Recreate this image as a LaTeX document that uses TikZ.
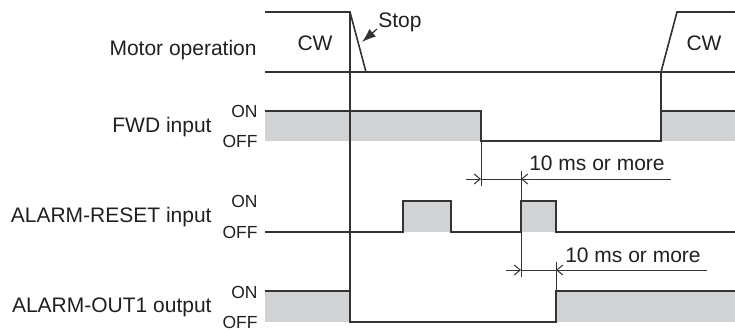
\documentclass[tikz,border=0pt]{standalone}
\usepackage{fontspec}
\setmainfont{Liberation Sans}
\usetikzlibrary{arrows.meta}
\definecolor{ln}{HTML}{333333}
\definecolor{gfill}{HTML}{D1D2D4}
\definecolor{txt}{HTML}{231F20}
\begin{document}
\begin{tikzpicture}[x=0.5pt,y=-0.5pt,
  sig/.style={draw=ln, line width=0.8pt, line join=miter},
  shade/.style={fill=gfill, draw=none},
  lbl/.style={font=\fontsize{10.5}{12}\selectfont, text=txt, inner sep=0pt},
  lvl/.style={font=\fontsize{8.75}{10}\selectfont, text=txt, inner sep=0pt, anchor=east},
  dimln/.style={draw=ln, line width=0.5pt},
  dimarr/.style={draw=ln, line width=0.5pt, -{Straight Barb[length=3pt,width=5pt]}}
]
\useasboundingbox (0,0) rectangle (735,329);

% gray fills
\fill[gfill] (265,111) rectangle (481,141);
\fill[gfill] (661,111) rectangle (735,141);
\fill[gfill] (403,201) rectangle (451,232);
\fill[gfill] (521,201) rectangle (556,232);
\fill[gfill] (265,291) rectangle (350,322);
\fill[gfill] (556,291) rectangle (735,322);

% row labels
\node[lbl, anchor=east] (motor) at (257,50) {Motor operation};
\node[lbl, anchor=east] (fwd) at (212,127) {FWD input};
\node[lbl, anchor=east] (reset) at (212,217) {ALARM-RESET input};
\node[lbl, anchor=east] (out) at (212,307) {ALARM-OUT1 output};

\node[lvl] (fwdon) at (258,111) {ON};
\node[lvl] (fwdoff) at (258,141) {OFF};
\node[lvl] (reson) at (258,201) {ON};
\node[lvl] (resoff) at (258,232) {OFF};
\node[lvl] (outon) at (258,292) {ON};
\node[lvl] (outoff) at (258,322) {OFF};

% motor operation
\draw[sig] (265,12) -- (350,12) -- (366,72);
\draw[sig] (265,72) -- (735,72);
\draw[sig] (661,72) -- (677,12) -- (735,12);
\node[lbl] (cw1) at (315,43) {CW};
\node[lbl] (cw2) at (704,43) {CW};
\node[lbl] (stop) at (400,22) {Stop};
\coordinate (stoptail) at (377,29);
\coordinate (stoptip) at (362,42);
\draw[draw=ln, line width=0.6pt, -{Latex[length=7pt,width=5pt]}] (stoptail) -- (stoptip);

% stop vertical line
\draw[sig] (350,12) -- (350,322);

% FWD
\draw[sig] (265,111) -- (481,111) -- (481,141) -- (661,141) -- (661,111) -- (735,111);
\draw[sig] (661,72) -- (661,111);

% ALARM-RESET
\draw[sig] (265,232) -- (403,232) -- (403,201) -- (451,201) -- (451,232) -- (521,232) -- (521,201) -- (556,201) -- (556,232) -- (735,232);

% ALARM-OUT1
\draw[sig] (265,291) -- (350,291) -- (350,322) -- (556,322) -- (556,291) -- (735,291);

% dimension 1
\coordinate (a1) at (481,179);
\coordinate (b1) at (521,179);
\draw[dimln] (481,141) -- (481,186);
\draw[dimln] (521,171) -- (521,201);
\draw[dimarr] (466,179) -- (a1);
\draw[dimln] (a1) -- (b1);
\draw[dimarr] (671,179) -- (b1);
\node[lbl] (t1) at (597,163) {10 ms or more};

% dimension 2
\coordinate (a2) at (521,270);
\coordinate (b2) at (556,270);
\draw[dimln] (521,232) -- (521,277);
\draw[dimln] (556,262) -- (556,291);
\draw[dimarr] (506,270) -- (a2);
\draw[dimln] (a2) -- (b2);
\draw[dimarr] (707,270) -- (b2);
\node[lbl] (t2) at (633,255) {10 ms or more};
\end{tikzpicture}
\end{document}
